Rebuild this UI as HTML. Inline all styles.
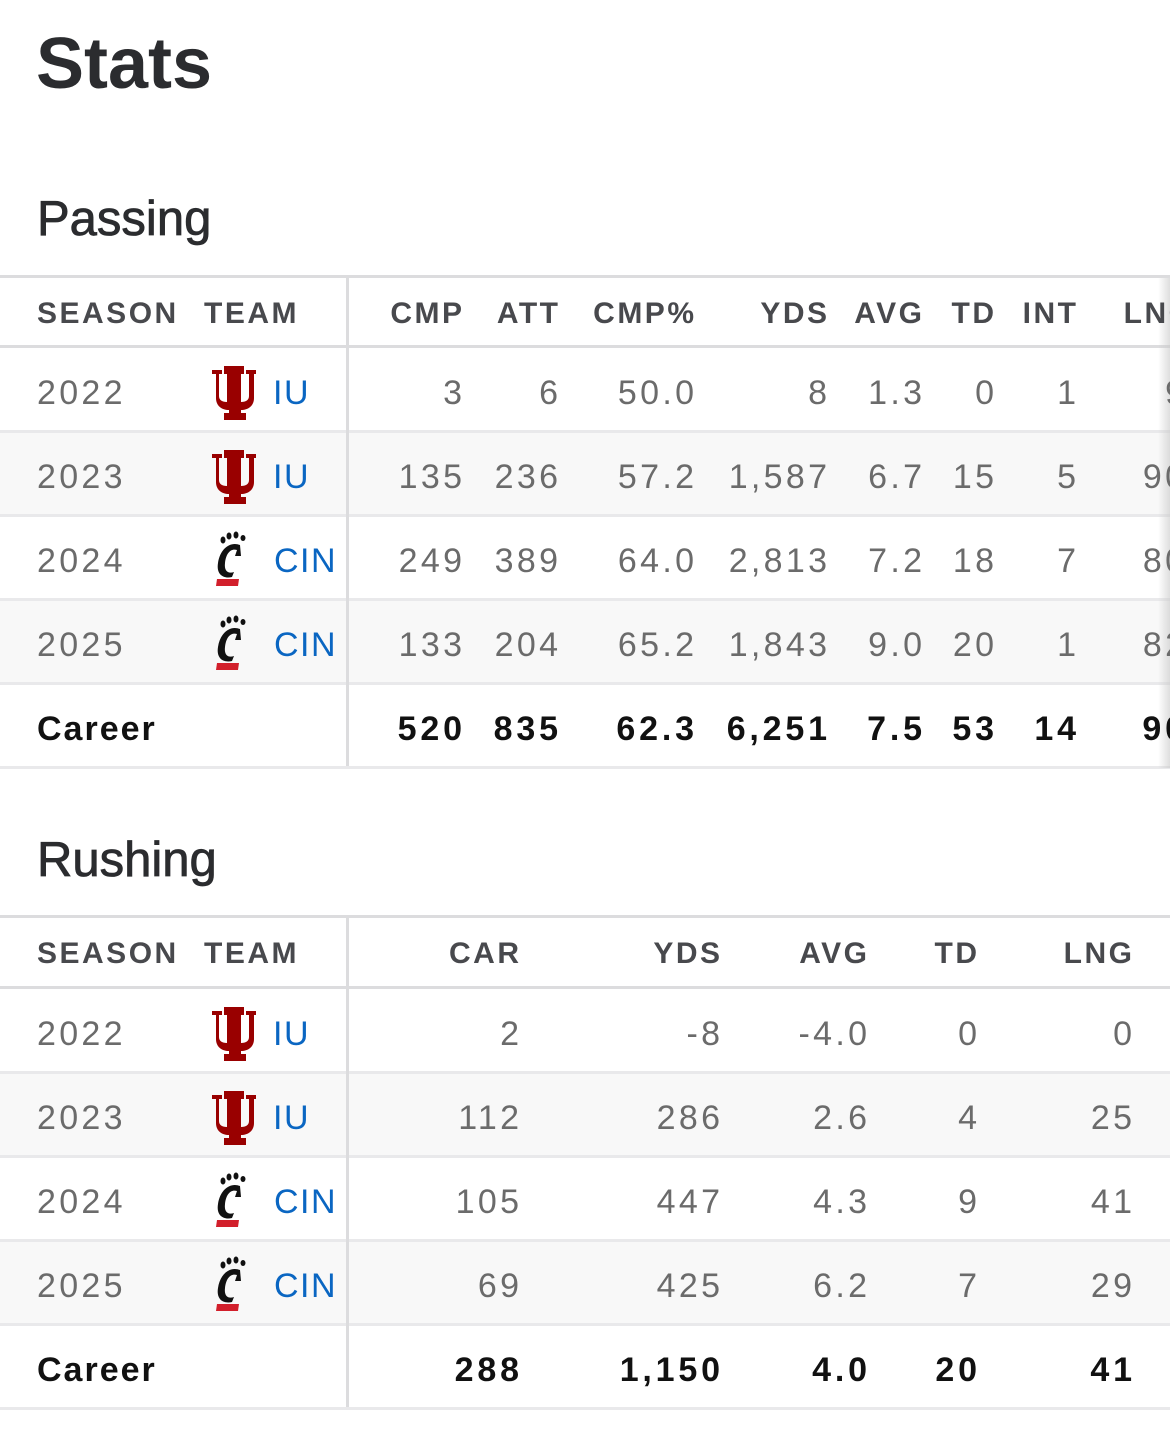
<!DOCTYPE html>
<html><head><meta charset="utf-8"><style>
*{margin:0;padding:0;box-sizing:border-box}
body{width:1170px;height:1444px;background:#fff;position:relative;overflow:hidden;font-family:"Liberation Sans",Arial,sans-serif}
.a{position:absolute}
.t{position:absolute;white-space:nowrap}
.h{font-size:30px;font-weight:700;color:#48494d;letter-spacing:2.5px;line-height:72px;margin-right:-2.5px}
.d{font-size:34px;color:#6b6b6b;letter-spacing:3.3px;line-height:88px;margin-right:-3.3px}
.c{font-size:34px;font-weight:700;color:#111;letter-spacing:3.8px;line-height:88px;margin-right:-3.8px}
.cl{letter-spacing:2px}
.tm{font-size:34px;color:#0a66c2;line-height:88px;letter-spacing:1.5px}
.hr{position:absolute;left:0;width:1170px;height:3px;background:#e9e9eb}
.hr2{position:absolute;left:0;width:1170px;height:3px;background:#dcdcde}
.v{position:absolute;left:346px;width:3px;background:#dcdcde}
.g{position:absolute;left:0;width:1170px;height:84px;background:#f8f8f8}
</style></head><body>
<div class="t" style="left:36px;top:22px;font-size:72px;font-weight:700;color:#2b2c2f;line-height:84px">Stats</div>
<div class="t" style="left:37px;top:188px;font-size:49px;color:#2b2c2f;-webkit-text-stroke:0.8px #2b2c2f;line-height:62px">Passing</div>

<div class="g" style="top:433px"></div>
<div class="g" style="top:601px"></div>
<div class="hr2" style="top:275px"></div>
<div class="hr2" style="top:345px"></div>
<div class="hr" style="top:430px"></div>
<div class="hr" style="top:514px"></div>
<div class="hr" style="top:598px"></div>
<div class="hr" style="top:682px"></div>
<div class="hr" style="top:766px"></div>
<div class="v" style="top:278px;height:488px"></div>
<div class="a" style="left:1158px;top:278px;width:12px;height:490px;background:linear-gradient(to right,rgba(200,200,200,0),rgba(200,200,200,0.6))"></div>

<div class="a" style="left:0;top:278px;width:1170px;height:70px">
<span class="t h" style="left:37px">SEASON</span><span class="t h" style="left:204px">TEAM</span>
<span class="t h" style="right:708px">CMP</span><span class="t h" style="right:612px">ATT</span><span class="t h" style="right:476px">CMP%</span><span class="t h" style="right:343px">YDS</span><span class="t h" style="right:248px">AVG</span><span class="t h" style="right:176px">TD</span><span class="t h" style="right:94px">INT</span><span class="t h" style="right:-22px">LNG</span>
</div>

<svg width="0" height="0" style="position:absolute">
<defs>
<symbol id="iu" viewBox="0 0 44 54"><path fill="#990000" d="M0 4h10v4h-3v22c0 4 3 6 8 6V8h-3V0h20v8h-3v28c5 0 8-2 8-6V8h-3V4h10v4h-2v24c0 8-6 12-13 12v3h5v7H12v-7h5v-3C10 44 4 40 4 32V8H0z"/></symbol>
<symbol id="cin" viewBox="0 0 36 56"><g fill="#111"><ellipse cx="9" cy="9" rx="2.5" ry="3.5"/><ellipse cx="15" cy="5" rx="2.5" ry="3.5"/><ellipse cx="22" cy="4" rx="2.5" ry="3.5"/><ellipse cx="29" cy="7" rx="2.5" ry="3"/><path d="M26 14c-10-4-20 4-22 18-2 12 6 16 14 14l2-5c-6 2-10-1-9-9 1-10 6-15 12-13l-2 6 6 0z"/></g><path fill="#d21f2b" d="M3 48h22l-1 7H2z"/></symbol>
</defs></svg>

<div class="a" style="left:0;top:349px;width:1170px;height:84px">
<span class="t d" style="left:37px">2022</span>
<svg class="a" style="left:212px;top:17px" width="44" height="54"><use href="#iu"/></svg>
<span class="t tm" style="left:273px">IU</span>
<span class="t d" style="right:708px">3</span><span class="t d" style="right:612px">6</span><span class="t d" style="right:476px">50.0</span><span class="t d" style="right:343px">8</span><span class="t d" style="right:248px">1.3</span><span class="t d" style="right:176px">0</span><span class="t d" style="right:94px">1</span><span class="t d" style="right:-14px">9</span>
</div>
<div class="a" style="left:0;top:433px;width:1170px;height:84px">
<span class="t d" style="left:37px">2023</span>
<svg class="a" style="left:212px;top:17px" width="44" height="54"><use href="#iu"/></svg>
<span class="t tm" style="left:273px">IU</span>
<span class="t d" style="right:708px">135</span><span class="t d" style="right:612px">236</span><span class="t d" style="right:476px">57.2</span><span class="t d" style="right:343px">1,587</span><span class="t d" style="right:248px">6.7</span><span class="t d" style="right:176px">15</span><span class="t d" style="right:94px">5</span><span class="t d" style="right:-14px">90</span>
</div>
<div class="a" style="left:0;top:517px;width:1170px;height:84px">
<span class="t d" style="left:37px">2024</span>
<svg class="a" style="left:214px;top:14px" width="36" height="56"><use href="#cin"/></svg>
<span class="t tm" style="left:274px">CIN</span>
<span class="t d" style="right:708px">249</span><span class="t d" style="right:612px">389</span><span class="t d" style="right:476px">64.0</span><span class="t d" style="right:343px">2,813</span><span class="t d" style="right:248px">7.2</span><span class="t d" style="right:176px">18</span><span class="t d" style="right:94px">7</span><span class="t d" style="right:-14px">80</span>
</div>
<div class="a" style="left:0;top:601px;width:1170px;height:84px">
<span class="t d" style="left:37px">2025</span>
<svg class="a" style="left:214px;top:14px" width="36" height="56"><use href="#cin"/></svg>
<span class="t tm" style="left:274px">CIN</span>
<span class="t d" style="right:708px">133</span><span class="t d" style="right:612px">204</span><span class="t d" style="right:476px">65.2</span><span class="t d" style="right:343px">1,843</span><span class="t d" style="right:248px">9.0</span><span class="t d" style="right:176px">20</span><span class="t d" style="right:94px">1</span><span class="t d" style="right:-14px">82</span>
</div>
<div class="a" style="left:0;top:685px;width:1170px;height:84px">
<span class="t c cl" style="left:37px">Career</span>
<span class="t c" style="right:708px">520</span><span class="t c" style="right:612px">835</span><span class="t c" style="right:476px">62.3</span><span class="t c" style="right:343px">6,251</span><span class="t c" style="right:248px">7.5</span><span class="t c" style="right:176px">53</span><span class="t c" style="right:94px">14</span><span class="t c" style="right:-14px">90</span>
</div>

<div class="t" style="left:37px;top:829px;font-size:49px;color:#2b2c2f;-webkit-text-stroke:0.8px #2b2c2f;line-height:62px">Rushing</div>

<div class="g" style="top:1074px"></div>
<div class="g" style="top:1242px"></div>
<div class="hr2" style="top:915px"></div>
<div class="hr2" style="top:986px"></div>
<div class="hr" style="top:1071px"></div>
<div class="hr" style="top:1155px"></div>
<div class="hr" style="top:1239px"></div>
<div class="hr" style="top:1323px"></div>
<div class="hr" style="top:1407px"></div>
<div class="v" style="top:918px;height:489px"></div>

<div class="a" style="left:0;top:918px;width:1170px;height:70px">
<span class="t h" style="left:37px">SEASON</span><span class="t h" style="left:204px">TEAM</span>
<span class="t h" style="right:651px">CAR</span><span class="t h" style="right:450px">YDS</span><span class="t h" style="right:303px">AVG</span><span class="t h" style="right:193px">TD</span><span class="t h" style="right:38px">LNG</span>
</div>
<div class="a" style="left:0;top:990px;width:1170px;height:84px">
<span class="t d" style="left:37px">2022</span>
<svg class="a" style="left:212px;top:17px" width="44" height="54"><use href="#iu"/></svg>
<span class="t tm" style="left:273px">IU</span>
<span class="t d" style="right:651px">2</span><span class="t d" style="right:450px">-8</span><span class="t d" style="right:303px">-4.0</span><span class="t d" style="right:193px">0</span><span class="t d" style="right:38px">0</span>
</div>
<div class="a" style="left:0;top:1074px;width:1170px;height:84px">
<span class="t d" style="left:37px">2023</span>
<svg class="a" style="left:212px;top:17px" width="44" height="54"><use href="#iu"/></svg>
<span class="t tm" style="left:273px">IU</span>
<span class="t d" style="right:651px">112</span><span class="t d" style="right:450px">286</span><span class="t d" style="right:303px">2.6</span><span class="t d" style="right:193px">4</span><span class="t d" style="right:38px">25</span>
</div>
<div class="a" style="left:0;top:1158px;width:1170px;height:84px">
<span class="t d" style="left:37px">2024</span>
<svg class="a" style="left:214px;top:14px" width="36" height="56"><use href="#cin"/></svg>
<span class="t tm" style="left:274px">CIN</span>
<span class="t d" style="right:651px">105</span><span class="t d" style="right:450px">447</span><span class="t d" style="right:303px">4.3</span><span class="t d" style="right:193px">9</span><span class="t d" style="right:38px">41</span>
</div>
<div class="a" style="left:0;top:1242px;width:1170px;height:84px">
<span class="t d" style="left:37px">2025</span>
<svg class="a" style="left:214px;top:14px" width="36" height="56"><use href="#cin"/></svg>
<span class="t tm" style="left:274px">CIN</span>
<span class="t d" style="right:651px">69</span><span class="t d" style="right:450px">425</span><span class="t d" style="right:303px">6.2</span><span class="t d" style="right:193px">7</span><span class="t d" style="right:38px">29</span>
</div>
<div class="a" style="left:0;top:1326px;width:1170px;height:84px">
<span class="t c cl" style="left:37px">Career</span>
<span class="t c" style="right:651px">288</span><span class="t c" style="right:450px">1,150</span><span class="t c" style="right:303px">4.0</span><span class="t c" style="right:193px">20</span><span class="t c" style="right:38px">41</span>
</div>
</body></html>
